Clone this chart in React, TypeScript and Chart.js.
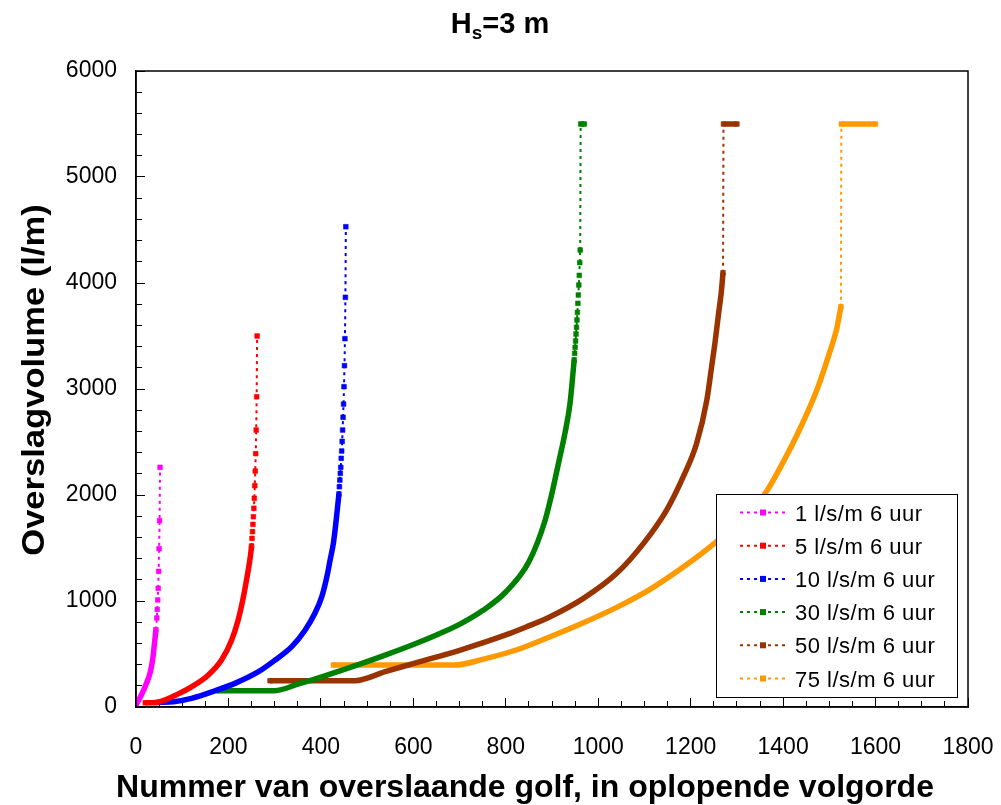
import React, { useEffect, useRef } from "react";
import { Chart, registerables } from "chart.js";

Chart.register(...registerables);

// ---------- texts ----------
const TITLE_MAIN = "H";
const TITLE_SUB = "s";
const TITLE_REST = "=3 m";
const X_TITLE = "Nummer van overslaande golf, in oplopende volgorde";
const Y_TITLE = "Overslagvolume (l/m)";

const seriesLabels = [
  "1 l/s/m 6 uur",
  "5 l/s/m 6 uur",
  "10 l/s/m 6 uur",
  "30 l/s/m 6 uur",
  "50 l/s/m 6 uur",
  "75 l/s/m 6 uur",
];
const seriesColors = ["#FF00FF", "#FF0000", "#0000FF", "#008000", "#993300", "#FF9900"];

// ---------- data (wave number, overtopping volume l/m) ----------
const q1X = [1, 5, 10, 15, 20, 25, 29, 32, 35, 37, 39, 41, 43, 45, 46, 47, 48, 49, 50, 51, 52];
const q1Y = [30, 60, 100, 145, 195, 250, 300, 350, 420, 480, 560, 640, 730, 840, 920, 1010, 1120, 1280, 1494, 1758, 2261];

const q5X = [20, 35, 48, 70, 84, 120, 156, 185, 207, 221, 232, 240, 245, 248, 250, 251, 252, 253, 254, 255, 256, 257, 258, 259, 260, 261, 262];
const q5Y = [40, 40, 45, 80, 108, 190, 300, 443, 632, 821, 1030, 1220, 1350, 1440, 1519, 1591, 1654, 1723, 1795, 1875, 1969, 2088, 2226, 2390, 2613, 2927, 3500];

const q10X = [48, 81, 120, 175, 214, 265, 301, 337, 366, 387, 402, 413, 420, 427, 431, 434, 437, 439, 440, 441, 442, 443, 444, 445, 446, 447, 448, 449, 450, 451, 452, 453, 454];
const q10Y = [44, 50, 82, 160, 223, 333, 443, 569, 726, 884, 1041, 1230, 1387, 1544, 1680, 1800, 1925, 2010, 2078, 2141, 2204, 2261, 2346, 2415, 2506, 2613, 2733, 2858, 3022, 3220, 3475, 3865, 4531];

const q30X = [175, 300, 350, 402, 481, 539, 600, 650, 700, 750, 800, 850, 885, 899, 914, 928, 939, 946, 948, 949, 950, 951, 952, 953, 954, 955, 956, 957, 958, 959, 960, 961];
const q30Y = [154, 154, 215, 285, 400, 490, 590, 680, 780, 910, 1085, 1370, 1760, 2000, 2299, 2582, 2865, 3179, 3274, 3336, 3393, 3453, 3519, 3582, 3651, 3723, 3808, 3887, 3981, 4072, 4192, 4311];
const q30CapX = [962, 966, 970];
const q30CapY = [5500, 5500, 5500];

const q50X = [290, 474, 539, 600, 700, 800, 844, 896, 968, 1040, 1098, 1148, 1184, 1213, 1235, 1245, 1253, 1260, 1266, 1270];
const q50Y = [248, 248, 333, 410, 535, 680, 755, 852, 1025, 1261, 1544, 1858, 2173, 2488, 2896, 3200, 3450, 3700, 3903, 4097];
const q50CapX = [1271, 1285, 1300];
const q50CapY = [5500, 5500, 5500];

const q75X = [427, 690, 750, 824, 896, 968, 1040, 1112, 1184, 1256, 1328, 1365, 1400, 1437, 1473, 1501, 1516, 1525];
const q75Y = [396, 396, 450, 540, 663, 795, 940, 1110, 1320, 1560, 1840, 2040, 2310, 2630, 2990, 3350, 3570, 3777];
const q75CapX = [1526, 1560, 1600];
const q75CapY = [5500, 5500, 5500];

const seriesX = [q1X, q5X, q10X, q30X, q50X, q75X];
const seriesY = [q1Y, q5Y, q10Y, q30Y, q50Y, q75Y];
const capX = [null, null, null, q30CapX, q50CapX, q75CapX];
const capY = [null, null, null, q30CapY, q50CapY, q75CapY];

// ---------- axes ----------
const X_MIN = 0;
const X_MAX = 1800;
const X_MAJOR = 200;
const X_MINOR = 50;
const Y_MIN = 0;
const Y_MAX = 6000;
const Y_MAJOR = 1000;
const Y_MINOR = 200;

// markers of consecutive waves overlap when the rise per wave is small
const DENSE_SLOPE = 50;
const MARKER_R = 3.3;

function styledDataset(
  data: { x: number; y: number }[],
  color: string,
  label: string,
  smooth: boolean,
  hideFirstMarker: boolean,
  isCap: boolean
) {
  const denseAt = (k0: number) => {
    const a = data[k0];
    const b = data[k0 + 1];
    if (!a || !b) return true;
    const dx = b.x - a.x;
    return dx > 0 && (b.y - a.y) / dx < DENSE_SLOPE;
  };
  const dense = (c: any) => denseAt(c.p0DataIndex);
  const marker = (c: any) => {
    const k = c.dataIndex;
    if (k === 0) return hideFirstMarker ? 0 : MARKER_R;
    if (k === data.length - 1) return MARKER_R;
    return denseAt(k - 1) && denseAt(k) ? 0 : MARKER_R;
  };
  return {
    label,
    isCap,
    data,
    borderColor: color,
    backgroundColor: color,
    borderWidth: 2,
    borderDash: [3, 4],
    borderJoinStyle: "round" as const,
    pointStyle: "rect" as const,
    pointRadius: marker,
    pointHoverRadius: marker,
    pointBorderWidth: 0.6,
    pointBackgroundColor: color,
    pointBorderColor: color,
    cubicInterpolationMode: smooth ? ("monotone" as const) : ("default" as const),
    tension: 0,
    fill: false,
    showLine: true,
    segment: {
      borderWidth: (c: any) => (dense(c) ? 5.5 : 2),
      borderDash: (c: any) => (dense(c) ? [] : [3, 4]),
    },
  };
}

function buildDatasets() {
  const main: any[] = [];
  const caps: any[] = [];
  seriesLabels.forEach((label, i) => {
    const xs = seriesX[i];
    const ys = seriesY[i];
    const data = xs.map((x, k) => ({ x, y: ys[k] }));
    main.push(styledDataset(data, seriesColors[i], label, true, false, false));
    const cx = capX[i];
    const cy = capY[i];
    if (cx && cy) {
      const top = data[data.length - 1];
      const capData = [top, ...cx.map((x, k) => ({ x, y: cy[k] }))];
      caps.push(styledDataset(capData, seriesColors[i], label, false, true, true));
    }
  });
  return [...main, ...caps];
}

function drawText(
  ctx: CanvasRenderingContext2D,
  text: string,
  x: number,
  y: number,
  font: string,
  align: CanvasTextAlign,
  sx = 1,
  spacing = 0
) {
  ctx.save();
  ctx.translate(x, y);
  ctx.scale(sx, 1);
  ctx.font = font;
  (ctx as any).letterSpacing = spacing + "px";
  ctx.textAlign = align;
  ctx.textBaseline = "alphabetic";
  ctx.fillStyle = "#000";
  ctx.fillText(text, 0, 0);
  ctx.restore();
}

const decorPlugin = {
  id: "decor",
  afterDraw(chart: any) {
    const { ctx, chartArea: a } = chart;
    ctx.save();
    // plot frame
    ctx.strokeStyle = "#000";
    ctx.lineWidth = 1.5;
    ctx.strokeRect(a.left, a.top, a.right - a.left, a.bottom - a.top);

    // chart title with subscript
    const fMain = "bold 29px 'Liberation Sans', Arial, sans-serif";
    const fSub = "bold 19px 'Liberation Sans', Arial, sans-serif";
    ctx.font = fMain;
    const wH = ctx.measureText(TITLE_MAIN).width;
    const wR = ctx.measureText(TITLE_REST).width;
    ctx.font = fSub;
    const wS = ctx.measureText(TITLE_SUB).width;
    const total = wH + wS + wR;
    let tx = 500 - total / 2;
    const base = 33;
    drawText(ctx, TITLE_MAIN, tx, base, fMain, "left");
    tx += wH;
    drawText(ctx, TITLE_SUB, tx, base + 6, fSub, "left");
    tx += wS;
    drawText(ctx, TITLE_REST, tx, base, fMain, "left");

    // axis titles
    drawText(ctx, X_TITLE, 525, 797, "bold 32px 'Liberation Sans', Arial, sans-serif", "center");
    ctx.save();
    ctx.translate(44, 380);
    ctx.rotate(-Math.PI / 2);
    drawText(ctx, Y_TITLE, 0, 0, "bold 32px 'Liberation Sans', Arial, sans-serif", "center", 1.08);
    ctx.restore();

    // legend box
    const lx0 = 716;
    const ly0 = 494;
    const lw = 241;
    const lh = 203;
    ctx.fillStyle = "#fff";
    ctx.fillRect(lx0, ly0, lw, lh);
    ctx.strokeStyle = "#000";
    ctx.lineWidth = 1;
    ctx.strokeRect(lx0 + 0.5, ly0 + 0.5, lw, lh);
    chart.data.datasets
      .filter((ds: any) => !ds.isCap)
      .forEach((ds: any, i: number) => {
        const ry = 512.5 + i * 33.2;
        ctx.save();
        ctx.strokeStyle = ds.borderColor;
        ctx.lineWidth = 2;
        ctx.setLineDash([3, 4]);
        ctx.beginPath();
        ctx.moveTo(740, ry);
        ctx.lineTo(789, ry);
        ctx.stroke();
        ctx.restore();
        ctx.fillStyle = ds.borderColor;
        ctx.fillRect(760, ry - 3, 6, 6);
        drawText(ctx, ds.label, 795, ry + 8, "22px 'Liberation Sans', Arial, sans-serif", "left", 1, 0.5);
      });
    ctx.restore();
  },
};

const zeroXPad = (h: number) => (s: any) => {
  s.height = h;
  s.paddingLeft = 0;
  s.paddingRight = 0;
};
const zeroYPad = (w: number) => (s: any) => {
  s.width = w;
  s.paddingTop = 0;
  s.paddingBottom = 0;
};

export default function App() {
  const ref = useRef<HTMLCanvasElement | null>(null);
  useEffect(() => {
    if (!ref.current) return;
    const tickFontY = { family: "'Liberation Sans', Arial, sans-serif", size: 23 };
    const tickFontX = { family: "'Liberation Sans Narrow', 'Liberation Sans', Arial, sans-serif", size: 23 };
    const chart = new Chart(ref.current, {
      type: "line",
      data: { datasets: buildDatasets() as any },
      options: {
        animation: false,
        responsive: false,
        devicePixelRatio: 1,
        events: [],
        layout: { padding: { left: 0, right: 33, top: 71, bottom: 0 } },
        plugins: {
          legend: { display: false },
          title: { display: false },
          tooltip: { enabled: false },
        },
        scales: {
          x: {
            type: "linear",
            position: "bottom",
            weight: 1,
            min: X_MIN,
            max: X_MAX,
            grid: { drawOnChartArea: false, drawTicks: true, tickLength: -9, tickColor: "#000", tickWidth: 1 },
            border: { display: true, color: "#000", width: 1.5 },
            ticks: {
              stepSize: X_MAJOR,
              autoSkip: false,
              maxRotation: 0,
              color: "#000",
              font: tickFontX,
              padding: 36,
              callback: (v: any) => String(v),
            },
            afterFit: zeroXPad(98),
          },
          xMinor: {
            type: "linear",
            position: "bottom",
            weight: 0,
            min: X_MIN,
            max: X_MAX,
            grid: { drawOnChartArea: false, drawTicks: true, tickLength: -6, tickColor: "#000", tickWidth: 1 },
            border: { display: false },
            ticks: { stepSize: X_MINOR, display: false, autoSkip: false },
            afterFit: zeroXPad(0),
          },
          y: {
            type: "linear",
            position: "left",
            weight: 1,
            min: Y_MIN,
            max: Y_MAX,
            grid: { drawOnChartArea: false, drawTicks: true, tickLength: -9, tickColor: "#000", tickWidth: 1 },
            border: { display: true, color: "#000", width: 1.5 },
            ticks: {
              stepSize: Y_MAJOR,
              autoSkip: false,
              color: "#000",
              font: tickFontY,
              padding: 28,
              callback: (v: any) => String(v),
            },
            afterFit: zeroYPad(136),
          },
          yMinor: {
            type: "linear",
            position: "left",
            weight: 0,
            min: Y_MIN,
            max: Y_MAX,
            grid: { drawOnChartArea: false, drawTicks: true, tickLength: -6, tickColor: "#000", tickWidth: 1 },
            border: { display: false },
            ticks: { stepSize: Y_MINOR, display: false, autoSkip: false },
            afterFit: zeroYPad(0),
          },
        },
      } as any,
      plugins: [decorPlugin],
    });
    return () => chart.destroy();
  }, []);
  return (
    <canvas
      ref={ref}
      width={1001}
      height={805}
      style={{ position: "absolute", left: 0, top: 0, width: 1001, height: 805, background: "#fff" }}
    />
  );
}
